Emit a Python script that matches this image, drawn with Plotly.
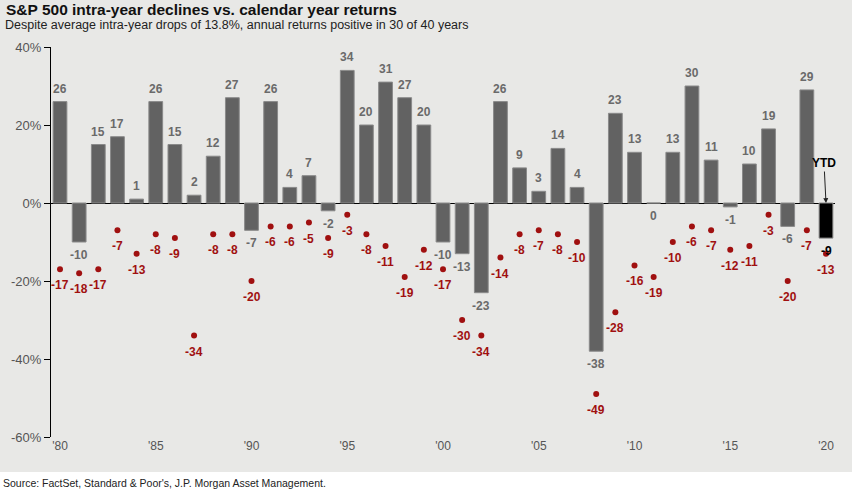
import plotly.graph_objects as go

years = list(range(1980, 2021))
annual_returns = [26, -10, 15, 17, 1, 26, 15, 2, 12, 27,
                  -7, 26, 4, 7, -2, 34, 20, 31, 27, 20,
                  -10, -13, -23, 26, 9, 3, 14, 4, -38, 23,
                  13, 0, 13, 30, 11, -1, 10, 19, -6, 29,
                  -9]
intra_year_declines = [-17, -18, -17, -7, -13, -8, -9, -34, -8, -8,
                       -20, -6, -6, -5, -9, -3, -8, -11, -19, -12,
                       -17, -30, -34, -14, -8, -7, -8, -10, -49, -28,
                       -16, -19, -10, -6, -7, -12, -11, -3, -20, -7,
                       -13]
tick_years = [1980, 1985, 1990, 1995, 2000, 2005, 2010, 2015, 2020]
tick_labels = ["'80", "'85", "'90", "'95", "'00", "'05", "'10", "'15", "'20"]
y_ticks = [40, 20, 0, -20, -40, -60]
y_tick_labels = ["40%", "20%", "0%", "-20%", "-40%", "-60%"]

title_text = "<b>S&P 500 intra-year declines vs. calendar year returns</b>"
subtitle_text = "Despite average intra-year drops of 13.8%, annual returns positive in 30 of 40 years"
source_text = "Source: FactSet, Standard & Poor's, J.P. Morgan Asset Management."

FONT = "Liberation Sans, Arial, sans-serif"
BAR_GRAY = "#626262"
LABEL_GRAY = "#6a6a6a"
RED = "#a01010"
BG = "#e8e8e6"

bar_colors = [BAR_GRAY] * (len(years) - 1) + ["#000000"]
bar_label_colors = [LABEL_GRAY] * (len(years) - 1) + ["#000000"]

fig = go.Figure()
fig.add_trace(go.Bar(
    x=years, y=annual_returns,
    marker=dict(color=bar_colors, line=dict(color="#8a8a8a", width=1)),
    width=0.72, showlegend=False, hoverinfo="skip",
))
fig.add_trace(go.Scatter(
    x=years, y=intra_year_declines, mode="markers",
    marker=dict(color=RED, size=6),
    showlegend=False, hoverinfo="skip",
))

annotations = []
for yr, v, c in zip(years, annual_returns, bar_label_colors):
    annotations.append(dict(
        x=yr, y=v, xref="x", yref="y", text=f"<b>{v}</b>", showarrow=False,
        yshift=13 if v > 0 else -13,
        font=dict(family=FONT, size=12, color=c),
    ))
for yr, v in zip(years, intra_year_declines):
    annotations.append(dict(
        x=yr, y=v, xref="x", yref="y", text=f"<b>{v}</b>", showarrow=False,
        yshift=-16, font=dict(family=FONT, size=12, color=RED),
    ))

annotations.append(dict(
    x=years[-1], y=0, xref="x", yref="y", text="<b>YTD</b>",
    showarrow=True, arrowhead=2, arrowsize=1, arrowwidth=1, arrowcolor="#222",
    ax=-2, ay=-40, font=dict(family=FONT, size=12, color="#000"),
))

PW, PH = 784, 390
annotations += [
    dict(x=-51 / PW, y=1 + 37 / PH, xref="paper", yref="paper",
         xanchor="left", yanchor="middle", showarrow=False, text=title_text,
         font=dict(family=FONT, size=15.5, color="#111"), xshift=4),
    dict(x=-51 / PW, y=1 + 22 / PH, xref="paper", yref="paper",
         xanchor="left", yanchor="middle", showarrow=False, text=subtitle_text,
         font=dict(family=FONT, size=12.5, color="#222"), xshift=3),
    dict(x=-51 / PW, y=-46 / PH, xref="paper", yref="paper",
         xanchor="left", yanchor="middle", showarrow=False, text=source_text,
         font=dict(family=FONT, size=10.5, color="#222"), xshift=1),
]

fig.update_layout(
    annotations=annotations,
    width=852, height=492,
    margin=dict(l=51, r=17, t=47, b=55),
    paper_bgcolor=BG, plot_bgcolor=BG,
    xaxis=dict(range=[1979.53, 2020.47], tickvals=tick_years, ticktext=tick_labels,
               showgrid=False, zeroline=False, showline=False, ticks="",
               tickfont=dict(family=FONT, size=12, color="#555")),
    yaxis=dict(range=[-60, 40], tickvals=y_ticks, ticktext=y_tick_labels,
               showgrid=False, zeroline=True, zerolinecolor="#000", zerolinewidth=1,
               showline=True, linecolor="#000", linewidth=1,
               ticks="outside", ticklen=6, tickcolor="#000",
               tickfont=dict(family=FONT, size=13, color="#555")),
    shapes=[dict(type="rect", xref="paper", yref="paper", x0=-0.1, x1=1.1,
                 y0=-0.2, y1=-35 / PH, fillcolor="#ffffff", line=dict(width=0),
                 layer="below")],
)

fig.write_html("out.html", config={"displayModeBar": False})
with open("out.html", "r", encoding="utf-8") as f:
    html = f.read()
html = html.replace("<head>", "<head><style>html,body{margin:0;padding:0;overflow:hidden;}</style>", 1)
with open("out.html", "w", encoding="utf-8") as f:
    f.write(html)
